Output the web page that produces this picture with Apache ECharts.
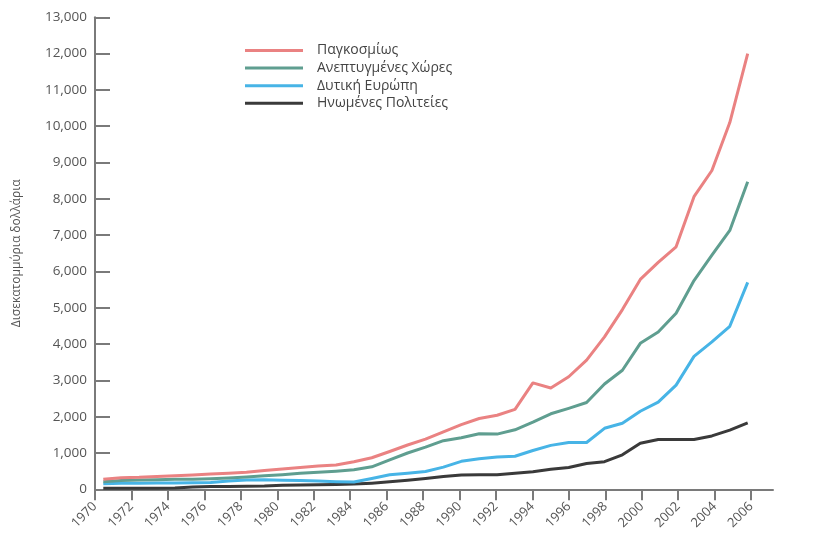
<!DOCTYPE html>
<html>
<head>
<meta charset="utf-8">
<script src="https://cdn.jsdelivr.net/npm/echarts@6/dist/echarts.min.js"></script>
<style>
  html, body { margin: 0; padding: 0; background: #ffffff; }
  #chart { width: 824px; height: 537px; }
</style>
</head>
<body>
<div id="chart"></div>
<script>
// Years covered by the series (one value per year)
const years = [
  1970, 1971, 1972, 1973, 1974, 1975, 1976, 1977, 1978, 1979,
  1980, 1981, 1982, 1983, 1984, 1985, 1986, 1987, 1988, 1989,
  1990, 1991, 1992, 1993, 1994, 1995, 1996, 1997, 1998, 1999,
  2000, 2001, 2002, 2003, 2004, 2005, 2006
];

// Billions of dollars
const world = [
  275, 320, 330, 355, 370, 395, 420, 445, 470, 520,
  560, 600, 640, 670, 760, 870, 1040, 1220, 1380, 1580,
  1780, 1950, 2040, 2200, 2930, 2790, 3100, 3560, 4200, 4950,
  5780, 6250, 6680, 8060, 8780, 10100, 12000
];
const developed = [
  210, 240, 255, 265, 275, 280, 290, 310, 340, 370,
  400, 440, 470, 500, 540, 620, 810, 1000, 1160, 1340,
  1420, 1530, 1520, 1640, 1850, 2080, 2230, 2390, 2900, 3280,
  4020, 4330, 4850, 5750, 6450, 7130, 8470
];
const westernEurope = [
  150, 165, 170, 175, 175, 180, 190, 230, 255, 260,
  250, 240, 230, 210, 200, 300, 400, 440, 490, 610,
  770, 840, 890, 910, 1070, 1210, 1290, 1290, 1680, 1820,
  2150, 2400, 2870, 3660, 4060, 4490, 5700
];
const unitedStates = [
  30, 30, 30, 30, 35, 60, 75, 80, 85, 90,
  110, 120, 125, 135, 145, 170, 205, 250, 300, 350,
  395, 400, 400, 440, 485, 550, 600, 710, 760, 950,
  1270, 1370, 1370, 1370, 1470, 1630, 1830
];

const seriesNames = [
  'Παγκοσμίως',
  'Ανεπτυγμένες Χώρες',
  'Δυτική Ευρώπη',
  'Ηνωμένες Πολιτείες'
];
const seriesColors = ['#ea8282', '#5f9e90', '#47b4e6', '#3a3a3a'];

// Axis ticks
const xTickYears = [
  1970, 1972, 1974, 1976, 1978, 1980, 1982, 1984, 1986,
  1988, 1990, 1992, 1994, 1996, 1998, 2000, 2002, 2004, 2006
];
const yTickValues = [
  0, 1000, 2000, 3000, 4000, 5000, 6000, 7000,
  8000, 9000, 10000, 11000, 12000, 13000
];
const yAxisTitle = 'Δισεκατομμύρια δολλάρια';

const FONT = '"Open Sans", "Noto Sans", sans-serif';
const AXIS_GREY = '#7a7a7a';
const TEXT_GREY = '#555555';

const chart = echarts.init(document.getElementById('chart'), null, { renderer: 'canvas' });

const seriesList = [world, developed, westernEurope, unitedStates].map((values, i) => ({
  name: seriesNames[i],
  type: 'line',
  xAxisIndex: 1,
  yAxisIndex: 1,
  data: values,
  showSymbol: false,
  symbol: 'none',
  lineStyle: { width: 3, color: seriesColors[i], join: 'round' },
  itemStyle: { color: seriesColors[i] },
  emphasis: { disabled: true },
  z: 10 - i
}));

chart.setOption({
  animation: false,
  backgroundColor: '#ffffff',
  textStyle: { fontFamily: FONT },
  legend: {
    orient: 'vertical',
    left: 240,
    top: 37,
    icon: 'rect',
    itemWidth: 58,
    itemHeight: 3,
    itemGap: 0.6,
    data: seriesNames,
    textStyle: {
      fontFamily: FONT,
      fontSize: 14,
      color: '#444444',
      lineHeight: 17,
      padding: [0, 0, 0, 9]
    },
    selectedMode: false
  },
  grid: [
    // frame carrying the visible axes
    { left: 95, right: 51, top: 17.3, bottom: 47.7, containLabel: false },
    // plotting area for the yearly series
    { left: 103.3, right: 76.3, top: 17.3, bottom: 47.7, containLabel: false }
  ],
  xAxis: [
    {
      gridIndex: 0,
      type: 'value',
      min: 1970,
      max: 2007.2,
      axisLine: { show: true, lineStyle: { color: AXIS_GREY, width: 2 } },
      axisTick: {
        show: true,
        length: 11,
        customValues: xTickYears,
        lineStyle: { color: AXIS_GREY, width: 2 }
      },
      axisLabel: {
        show: true,
        rotate: 45,
        margin: 15,
        customValues: xTickYears,
        formatter: v => String(v),
        color: TEXT_GREY,
        fontFamily: FONT,
        fontSize: 13
      },
      splitLine: { show: false }
    },
    {
      gridIndex: 1,
      type: 'category',
      boundaryGap: false,
      data: years,
      show: false
    }
  ],
  yAxis: [
    {
      gridIndex: 0,
      type: 'value',
      min: 0,
      max: 13000,
      name: yAxisTitle,
      nameLocation: 'middle',
      nameGap: 72,
      nameTextStyle: { color: TEXT_GREY, fontFamily: FONT, fontSize: 12 },
      axisLine: { show: true, lineStyle: { color: AXIS_GREY, width: 2 } },
      axisTick: {
        show: true,
        inside: true,
        length: 15,
        customValues: yTickValues,
        lineStyle: { color: AXIS_GREY, width: 2 }
      },
      axisLabel: {
        show: true,
        margin: 8,
        customValues: yTickValues,
        color: TEXT_GREY,
        fontFamily: FONT,
        fontSize: 13.5
      },
      splitLine: { show: false }
    },
    {
      gridIndex: 1,
      type: 'value',
      min: 0,
      max: 13000,
      show: false,
      splitLine: { show: false }
    }
  ],
  series: seriesList
});
</script>
</body>
</html>
